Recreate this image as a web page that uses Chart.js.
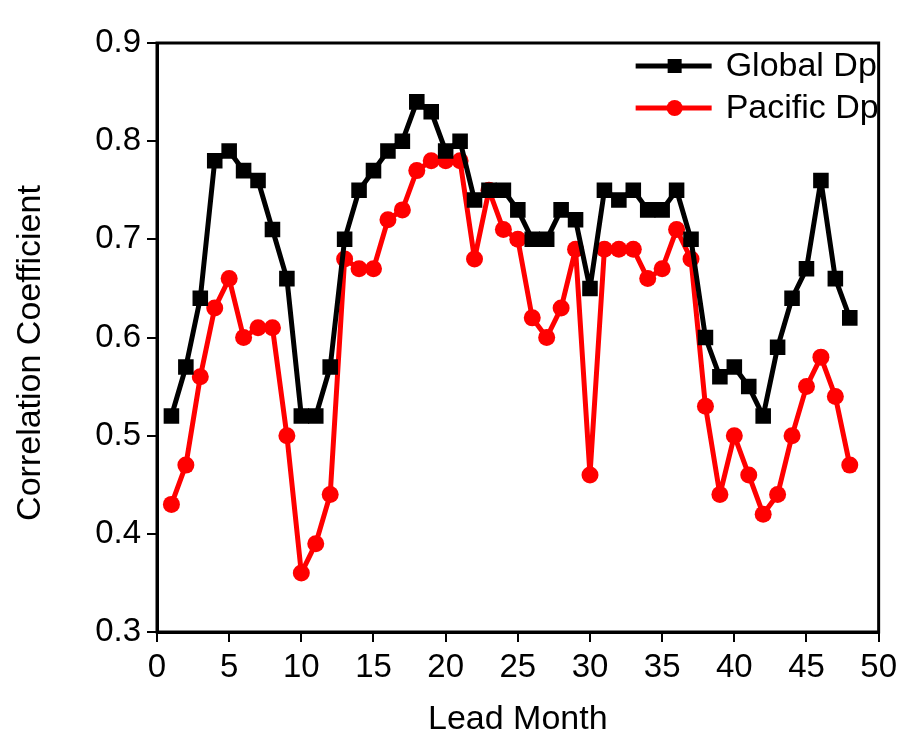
<!DOCTYPE html>
<html>
<head>
<meta charset="utf-8">
<script src="https://cdn.jsdelivr.net/npm/chart.js@4.4.1/dist/chart.umd.min.js"></script>
<style>
  html, body { margin: 0; padding: 0; background: #fff; }
  #wrap { width: 903px; height: 735px; }
</style>
</head>
<body>
<div id="wrap"><canvas id="c" width="903" height="735"></canvas></div>
<script>
const leadMonths = [1,2,3,4,5,6,7,8,9,10,11,12,13,14,15,16,17,18,19,20,21,22,23,24,25,26,27,28,29,30,31,32,33,34,35,36,37,38,39,40,41,42,43,44,45,46,47,48];
const globalDp = [0.52,0.57,0.64,0.78,0.79,0.77,0.76,0.71,0.66,0.52,0.52,0.57,0.70,0.75,0.77,0.79,0.80,0.84,0.83,0.79,0.80,0.74,0.75,0.75,0.73,0.70,0.70,0.73,0.72,0.65,0.75,0.74,0.75,0.73,0.73,0.75,0.70,0.60,0.56,0.57,0.55,0.52,0.59,0.64,0.67,0.76,0.66,0.62];
const pacificDp = [0.43,0.47,0.56,0.63,0.66,0.60,0.61,0.61,0.50,0.36,0.39,0.44,0.68,0.67,0.67,0.72,0.73,0.77,0.78,0.78,0.78,0.68,0.75,0.71,0.70,0.62,0.60,0.63,0.69,0.46,0.69,0.69,0.69,0.66,0.67,0.71,0.68,0.53,0.44,0.50,0.46,0.42,0.44,0.50,0.55,0.58,0.54,0.47];
const seriesNames = ['Global Dp', 'Pacific Dp'];
const yTitle = 'Correlation Coefficient';
const xTitle = 'Lead Month';
const xTicks = [0,5,10,15,20,25,30,35,40,45,50];
const yTicks = [0.3,0.4,0.5,0.6,0.7,0.8,0.9];

const FONT = "'Liberation Sans', Arial, sans-serif";

const frame = {
  id: 'frame',
  afterDraw(chart) {
    const {ctx} = chart;
    ctx.save();
    ctx.fillStyle = '#000';
    ctx.font = '34px ' + FONT;
    ctx.textAlign = 'center';
    ctx.textBaseline = 'middle';
    ctx.translate(31, 353);
    ctx.rotate(-Math.PI / 2);
    ctx.fillText(yTitle, 0, 0);
    ctx.restore();
  },
  afterDatasetsDraw(chart) {
    const {ctx, chartArea: a} = chart;
    ctx.save();
    ctx.strokeStyle = '#000';
    ctx.lineWidth = 3;
    ctx.strokeRect(a.left, a.top, a.right - a.left, a.bottom - a.top);
    const rows = [
      {name: seriesNames[0], color: '#000', style: 'rect', y: a.top + 23},
      {name: seriesNames[1], color: '#ff0000', style: 'circle', y: a.top + 65}
    ];
    rows.forEach(r => {
      ctx.strokeStyle = r.color;
      ctx.fillStyle = r.color;
      ctx.lineWidth = 5;
      ctx.beginPath();
      ctx.moveTo(a.right - 243, r.y);
      ctx.lineTo(a.right - 167, r.y);
      ctx.stroke();
      const mx = a.right - 204;
      if (r.style === 'rect') {
        ctx.fillRect(mx - 7, r.y - 7, 14, 14);
      } else {
        ctx.beginPath();
        ctx.arc(mx, r.y, 8, 0, Math.PI * 2);
        ctx.fill();
      }
      ctx.fillStyle = '#000';
      ctx.font = '34px ' + FONT;
      ctx.textBaseline = 'middle';
      ctx.textAlign = 'left';
      ctx.fillText(r.name, a.right - 153, r.y + 1);
    });
    ctx.restore();
  }
};

new Chart(document.getElementById('c'), {
  type: 'line',
  data: {
    datasets: [
      {
        label: seriesNames[0],
        data: leadMonths.map((m, i) => ({x: m, y: globalDp[i]})),
        borderColor: '#000',
        backgroundColor: '#000',
        borderWidth: 5,
        borderJoinStyle: 'round',
        pointStyle: 'rect',
        pointRadius: 11,
        pointHoverRadius: 11,
        pointBorderWidth: 0,
        tension: 0
      },
      {
        label: seriesNames[1],
        data: leadMonths.map((m, i) => ({x: m, y: pacificDp[i]})),
        borderColor: '#ff0000',
        backgroundColor: '#ff0000',
        borderWidth: 5,
        borderJoinStyle: 'round',
        pointStyle: 'circle',
        pointRadius: 8.5,
        pointHoverRadius: 8.5,
        pointBorderWidth: 0,
        tension: 0
      }
    ]
  },
  options: {
    responsive: false,
    animation: false,
    layout: { padding: { top: 43, right: 23, left: 0, bottom: 0 } },
    plugins: { legend: { display: false }, tooltip: { enabled: false } },
    scales: {
      x: {
        type: 'linear',
        min: 0, max: 50,
        afterBuildTicks: s => { s.ticks = xTicks.map(v => ({value: v})); },
        afterFit: s => { s.height = 103; },
        grid: { display: true, drawOnChartArea: false, drawTicks: true, tickLength: 10, color: '#000', lineWidth: 2 },
        border: { display: true, color: '#000', width: 3 },
        ticks: { color: '#000', font: { family: FONT, size: 33 }, padding: 6, maxRotation: 0, autoSkip: false },
        title: { display: true, text: xTitle, color: '#000', font: { family: FONT, size: 34, lineHeight: 1.0 }, padding: { top: 0, bottom: -2 } }
      },
      y: {
        min: 0.3, max: 0.9,
        afterBuildTicks: s => { s.ticks = yTicks.map(v => ({value: v})); },
        afterFit: s => { s.width = 157; },
        grid: { display: true, drawOnChartArea: false, drawTicks: true, tickLength: 10, color: '#000', lineWidth: 2 },
        border: { display: true, color: '#000', width: 3 },
        ticks: { color: '#000', font: { family: FONT, size: 33 }, padding: 6, callback: v => Number(v).toFixed(1), autoSkip: false },
        title: { display: false }
      }
    }
  },
  plugins: [frame]
});
</script>
</body>
</html>
